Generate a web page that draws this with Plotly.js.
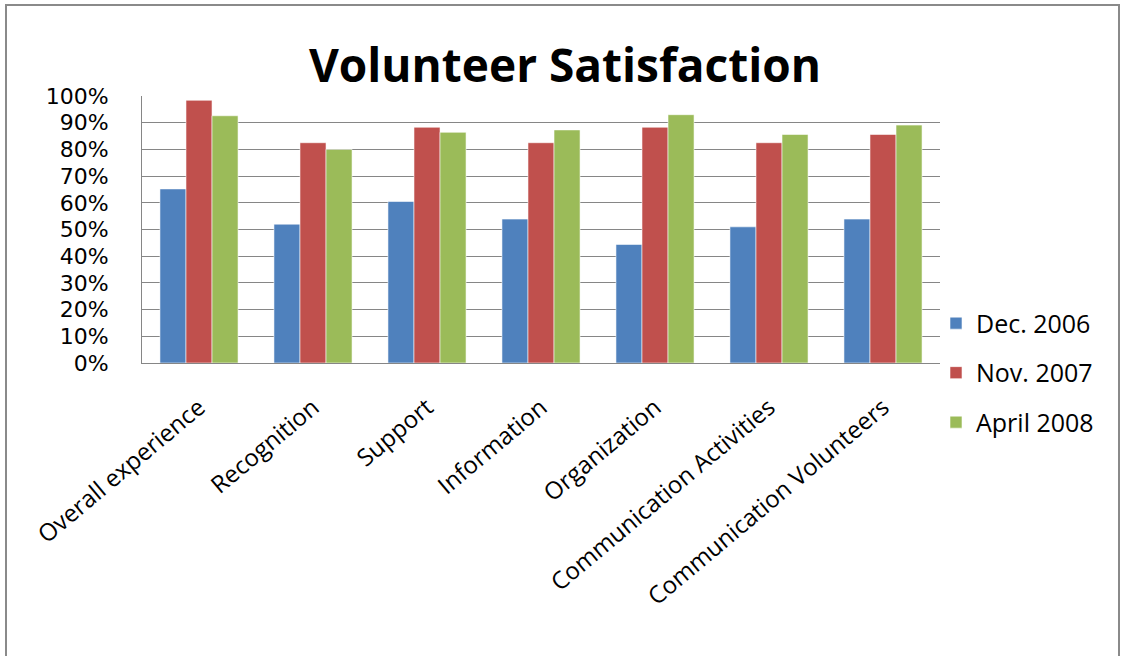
<!DOCTYPE html>
<html>
<head>
<meta charset="utf-8">
<script src="https://cdn.plot.ly/plotly-3.0.1.min.js"></script>
<style>
html,body{margin:0;padding:0;background:#fff;}
#wrap{position:relative;width:1127px;height:656px;overflow:hidden;}
#chart{position:absolute;left:0;top:0;width:1127px;height:656px;}
#frame{position:absolute;left:5px;top:4px;width:1111px;height:700px;border:2px solid #8a8a8a;pointer-events:none;}
</style>
</head>
<body>
<div id="wrap"><div id="chart"></div><div id="frame"></div></div>
<script>
const categories = ["Overall experience","Recognition","Support","Information","Organization","Communication Activities","Communication Volunteers"];
const seriesNames = ["Dec. 2006","Nov. 2007","April 2008"];
const dec2006 = [65.2, 52, 60.5, 53.9, 44.4, 51, 53.9];
const nov2007 = [98.4, 82.5, 88.3, 82.5, 88.3, 82.5, 85.6];
const apr2008 = [92.6, 80, 86.4, 87.3, 93, 85.6, 89.1];
const yTicks = [0,10,20,30,40,50,60,70,80,90,100];

const colors = ["#4F81BD","#C0504D","#9BBB59"];
const allSeries = [dec2006, nov2007, apr2008];
const font = "'Open Sans', Lato, sans-serif";

const traces = allSeries.map((vals, i) => ({
  type: "bar",
  name: seriesNames[i],
  x: categories,
  y: vals,
  legendgroup: "g" + i,
  marker: {color: colors[i], line: {color: "rgba(255,255,255,0.7)", width: 0.8}},
  hoverinfo: "x+y+name"
}));

const layout = {
  width: 1127, height: 656,
  margin: {l: 142, r: 187, t: 96, b: 293, pad: 0},
  paper_bgcolor: "#fff", plot_bgcolor: "#fff",
  title: {text: "<b>Volunteer Satisfaction</b>", font: {family: font, size: 46, color: "#000"}, x: 0.53, xref: "paper", xanchor: "center", y: 0.9, yref: "container", yanchor: "middle"},
  barmode: "group",
  bargap: 0.315,
  bargroupgap: 0,
  showlegend: true,
  legend: {x: 0.995, xanchor: "left", y: -0.037, yanchor: "middle", traceorder: "grouped", tracegroupgap: 14, font: {family: font, size: 25, color: "#000"}, bgcolor: "rgba(0,0,0,0)", itemwidth: 30},
  xaxis: {
    type: "category", tickangle: -40, tickfont: {family: font, size: 24, color: "#000"},
    showline: true, linecolor: "#868686", linewidth: 1, ticks: "", showgrid: false, automargin: false, ticklabelstandoff: 20
  },
  yaxis: {
    range: [0, 100], tickvals: yTicks, ticktext: yTicks.map(v => v + "%"),
    tickfont: {family: "'DejaVu Sans', sans-serif", size: 22, color: "#000"},
    showline: true, linecolor: "#868686", linewidth: 1,
    showgrid: true, gridcolor: "#868686", gridwidth: 1, ticks: "", ticklabelstandoff: 28, zeroline: false, automargin: false, fixedrange: true
  }
};

Plotly.newPlot("chart", traces, layout, {displayModeBar: false, staticPlot: true});
</script>
</body>
</html>
